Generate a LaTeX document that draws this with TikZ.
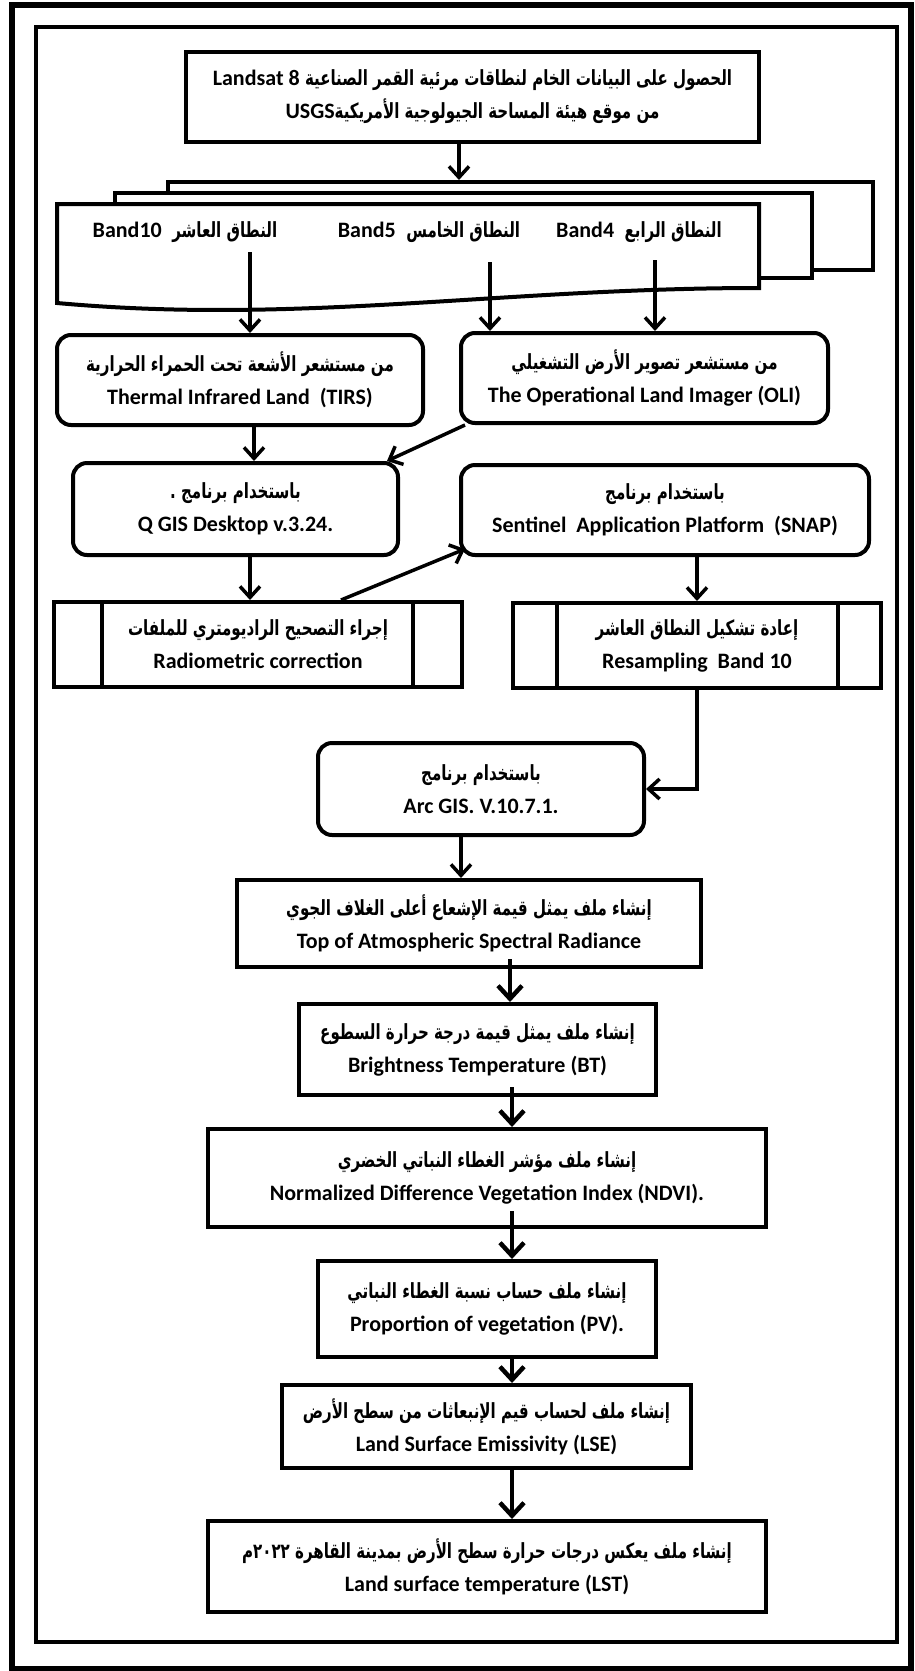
\documentclass[tikz,border=0pt]{standalone}
\usepackage{fontspec}
\setmainfont{Carlito}
\newfontfamily\arabicfont[Script=Arabic,Scale=0.95,FakeStretch=0.72]{DejaVu Sans}
\TeXXeTstate=1
\usetikzlibrary{positioning,arrows.meta}

\newcommand{\artext}[1]{{\arabicfont\beginR #1\endR}}
\newcommand{\lat}[1]{\beginL{\rmfamily #1}\endL}

\tikzset{
  box/.style={draw, line width=4pt, align=center, inner sep=0pt,
    font=\bfseries\fontsize{22}{33}\selectfont},
  roundbox/.style={box, rounded corners=14pt},
  page/.style={draw, fill=white, line width=4pt, inner sep=0pt},
  bandlabel/.style={inner sep=0pt, font=\bfseries\fontsize{22}{26}\selectfont},
  arr/.style={line width=3.5pt, -{Straight Barb[length=11pt,width=20pt]}},
  heavyarr/.style={line width=4.5pt, -{Straight Barb[length=13pt,width=24pt]}},
}

\begin{document}
\begin{tikzpicture}[x=1pt, y=-1pt]
\useasboundingbox (0,0) rectangle (915,1671);
% frames
\draw[line width=6pt] (11.5,4.5) rectangle (911,1668.5);
\draw[line width=3.5pt] (36,27) rectangle (897,1642);

\node[box, minimum width=573pt, minimum height=90pt] (title) at (472.5,97)
  {\artext{الحصول على البيانات الخام لنطاقات مرئية القمر الصناعية \lat{Landsat 8}}\\
   \artext{من موقع هيئة المساحة الجيولوجية الأمريكية\lat{USGS}}};

% stacked pages
\node[page, minimum width=705pt, minimum height=88pt] (pg3) at (520.5,226) {};
\node[page, minimum width=697pt, minimum height=85pt] (pg2) at (463.5,235.5) {};
\draw[page] (57,204) -- (759,204) -- (759,288)
  .. controls (500,288) and (300,325) .. (57,303) -- cycle;
\node[bandlabel] (b10) at (185,232) {\artext{النطاق العاشر \ \lat{Band10}}};
\node[bandlabel] (b5) at (429,232) {\artext{النطاق الخامس \ \lat{Band5}}};
\node[bandlabel] (b4) at (639,232) {\artext{النطاق الرابع \ \lat{Band4}}};
\coordinate (p10) at (250,252);
\coordinate (p5) at (490,262);
\coordinate (p4) at (655,260);

\node[roundbox, minimum width=366pt, minimum height=90pt] (TIRS) at (240,380)
  {\artext{من مستشعر الأشعة تحت الحمراء الحرارية}\\ Thermal Infrared Land \ (TIRS)};
\node[roundbox, minimum width=367pt, minimum height=90pt] (OLI) at (644.5,378)
  {\artext{من مستشعر تصوير الأرض التشغيلي}\\ The Operational Land Imager (OLI)};
\node[roundbox, minimum width=325pt, minimum height=92pt] (QGIS) at (235.5,509)
  {\artext{باستخدام برنامج .}\\ Q GIS Desktop v.3.24.};
\node[roundbox, minimum width=408pt, minimum height=90pt] (SNAP) at (665,510)
  {\artext{باستخدام برنامج}\\ Sentinel \ Application Platform \ (SNAP)};
\node[box, minimum width=408pt, minimum height=85pt] (Radio) at (258,644.5)
  {\artext{إجراء التصحيح الراديومتري للملفات}\\ Radiometric correction};
\node[box, minimum width=368pt, minimum height=85pt] (Resamp) at (697,645.5)
  {\artext{إعادة تشكيل النطاق العاشر}\\ Resampling \ Band 10};
\node[roundbox, minimum width=326pt, minimum height=92pt] (Arc) at (481,789)
  {\artext{باستخدام برنامج}\\ Arc GIS. V.10.7.1.};
\node[box, minimum width=464pt, minimum height=87pt] (TOA) at (469,923.5)
  {\artext{إنشاء ملف يمثل قيمة الإشعاع أعلى الغلاف الجوي}\\ Top of Atmospheric Spectral Radiance};
\node[box, minimum width=357pt, minimum height=91pt] (BT) at (477.5,1049.5)
  {\artext{إنشاء ملف يمثل قيمة درجة حرارة السطوع}\\ Brightness Temperature (BT)};
\node[box, minimum width=558pt, minimum height=98pt] (NDVI) at (487,1178)
  {\artext{إنشاء ملف مؤشر الغطاء النباتي الخضري}\\ Normalized Difference Vegetation Index (NDVI).};
\node[box, minimum width=338pt, minimum height=96pt] (PV) at (487,1309)
  {\artext{إنشاء ملف حساب نسبة الغطاء النباتي}\\ Proportion of vegetation (PV).};
\node[box, minimum width=409pt, minimum height=83pt] (LSE) at (486.5,1426.5)
  {\artext{إنشاء ملف لحساب قيم الإنبعاثات من سطح الأرض}\\ Land Surface Emissivity (LSE)};
\node[box, minimum width=558pt, minimum height=91pt] (LST) at (487,1566.5)
  {\artext{إنشاء ملف يعكس درجات حرارة سطح الأرض بمدينة القاهرة ٢٠٢٢م}\\ Land surface temperature (LST)};

% side bars of the process boxes
\draw[line width=4pt] ([xshift=50pt]Radio.north west) -- ([xshift=50pt]Radio.south west);
\draw[line width=4pt] ([xshift=-51pt]Radio.north east) -- ([xshift=-51pt]Radio.south east);
\draw[line width=4pt] ([xshift=46pt]Resamp.north west) -- ([xshift=46pt]Resamp.south west);
\draw[line width=4pt] ([xshift=-45pt]Resamp.north east) -- ([xshift=-45pt]Resamp.south east);

% connectors
\draw[arr] (title.south -| OLI.west) -- (pg3.north -| OLI.west);
\draw[arr] (p10) -- (p10 |- TIRS.north);
\draw[arr] (p5) -- (p5 |- OLI.north);
\draw[arr] (p4) -- (p4 |- OLI.north);
\draw[arr] ([xshift=14pt]TIRS.south) -- ([xshift=18.5pt]QGIS.north);
\draw[arr] ([xshift=6pt]OLI.south west) -- ([xshift=-13pt]QGIS.north east);
\draw[arr] ([xshift=14.5pt]QGIS.south) -- ([xshift=-8pt]Radio.north);
\draw[arr] ([xshift=83pt]Radio.north) -- ([xshift=6pt,yshift=8pt]SNAP.south west);
\draw[arr] (Resamp.north |- SNAP.south) -- (Resamp.north);
\draw[arr] (Resamp.south) |- (Arc.east);
\draw[arr] ([xshift=-20pt]Arc.south) -- ([xshift=-8pt]TOA.north);
\draw[heavyarr] ([xshift=41pt,yshift=10pt]TOA.south) -- ([xshift=32.5pt]BT.north);
\draw[heavyarr] ([xshift=34.5pt,yshift=10pt]BT.south) -- ([xshift=25pt]NDVI.north);
\draw[heavyarr] ([xshift=25pt,yshift=18pt]NDVI.south) -- ([xshift=25pt]PV.north);
\draw[heavyarr] ([xshift=25pt]PV.south) -- ([xshift=25.5pt]LSE.north);
\draw[heavyarr] ([xshift=25.5pt]LSE.south) -- ([xshift=25pt]LST.north);
\end{tikzpicture}
\end{document}
